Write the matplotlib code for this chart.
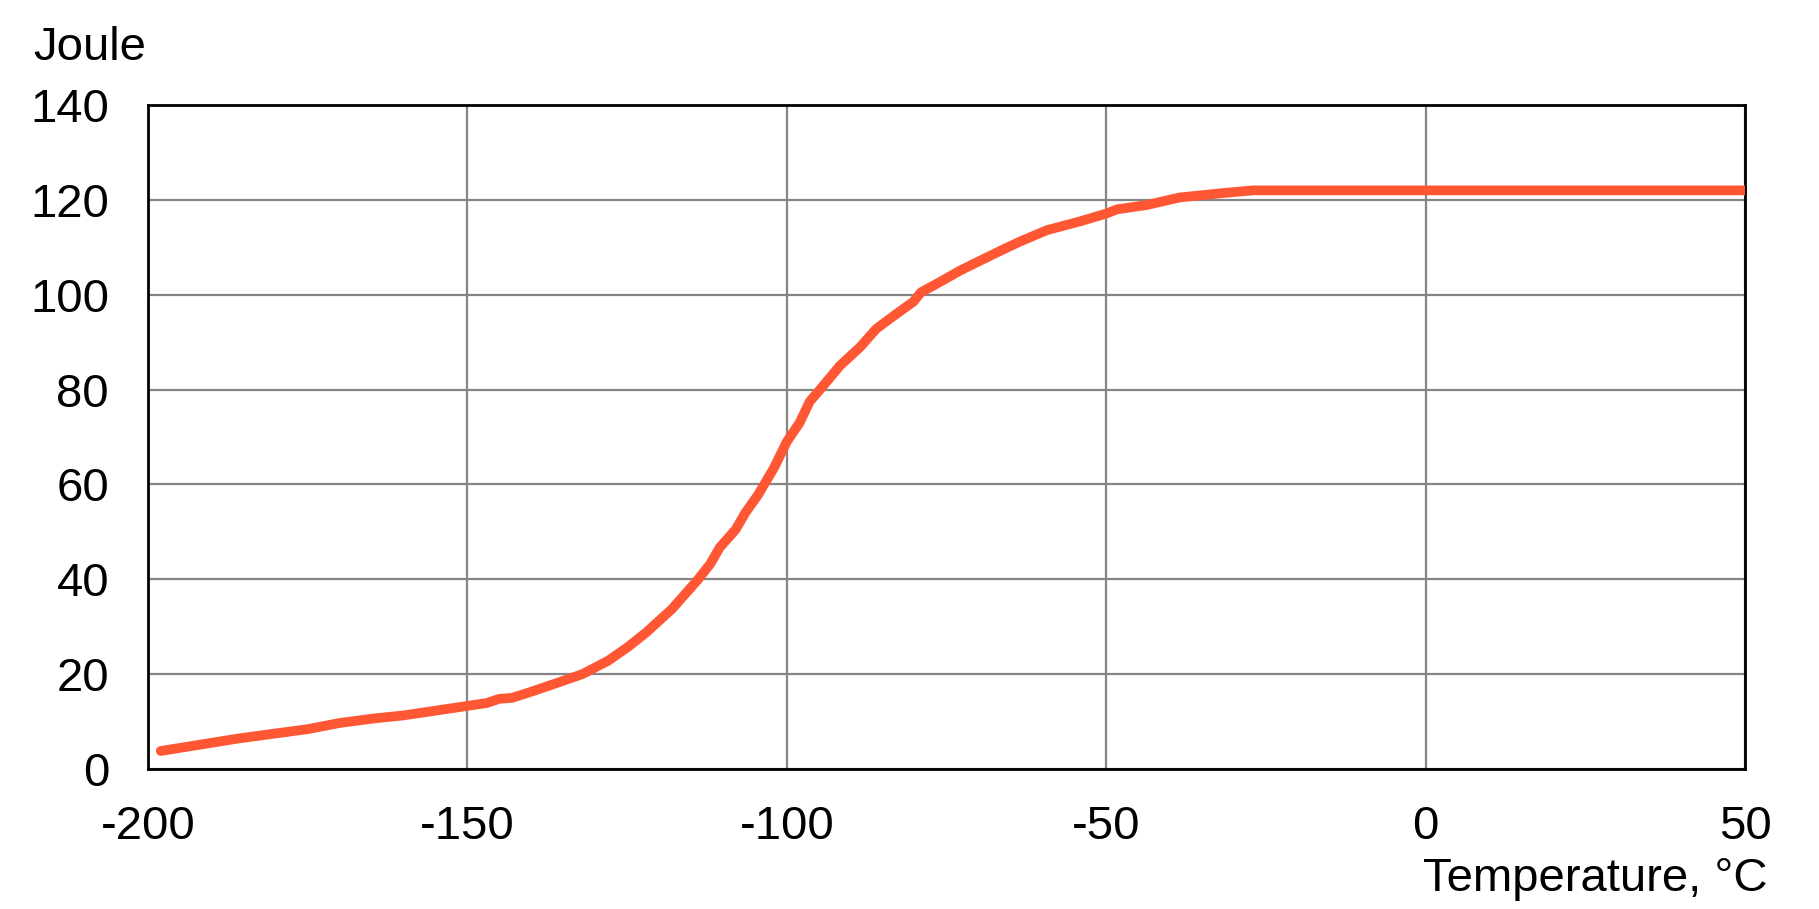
'''Charpy impact energy versus temperature'''

import matplotlib
matplotlib.use('Agg')
import matplotlib.pyplot as plt

# Data

temp = [-198, -192, -186, -180, -175, -170, -165, -160, -155, -150,
        -147, -145, -143, -140, -136.5, -132, -128, -125, -122, -118,
        -114, -112, -110.5, -108, -106.5, -104.5, -102, -100, -98, -96.4,
        -94.8, -91.7, -88.5, -86, -83, -80.2, -79, -76, -73, -70,
        -66.5, -63.5, -59.3, -54, -50, -48.3, -43.7, -38.5, -32, -27, 50]
joule = [3.8, 5.1, 6.4, 7.5, 8.4, 9.7, 10.6, 11.3, 12.3, 13.3,
         13.9, 14.8, 15.0, 16.3, 17.9, 20.0, 22.8, 25.6, 28.8, 33.7,
         39.8, 43.2, 46.7, 50.5, 54.0, 57.8, 63.5, 69.0, 73.0, 77.5,
         80.0, 85.0, 89.0, 92.8, 95.8, 98.5, 100.5, 102.7, 105.0, 107.0,
         109.3, 111.2, 113.6, 115.5, 117.1, 118.0, 118.9, 120.5, 121.4, 122.0, 122.0]

x_ticks = [-200, -150, -100, -50, 0, 50]
y_ticks = [0, 20, 40, 60, 80, 100, 120, 140]

# Figure

plt.rcParams['font.family'] = ['Liberation Sans', 'DejaVu Sans']
W, H = 1819, 909
fig = plt.figure(figsize=(W / 100, H / 100), dpi=100)
ax = fig.add_axes([148 / W, 1 - 769 / H, (1745 - 148) / W, (769 - 105) / H])

ax.plot(temp, joule, color='#ff5733', lw=7, solid_capstyle='round',
        solid_joinstyle='round', zorder=3)

ax.set_xlim(-200, 50)
ax.set_ylim(0, 140)
ax.set_xticks(x_ticks)
ax.set_yticks(y_ticks)
ax.set_xticklabels([str(t) for t in x_ticks])
ax.set_yticklabels([str(t) for t in y_ticks])
ax.tick_params(axis='both', length=0, labelsize=34)
ax.tick_params(axis='y', pad=28)
ax.tick_params(axis='x', pad=26)
ax.grid(True, color='#858585', lw=1.6)
ax.set_axisbelow(True)
for s in ax.spines.values():
    s.set_linewidth(2)
    s.set_color('black')

fig.text(33 / W, 1 - 60 / H, 'Joule', fontsize=34, ha='left', va='baseline')
fig.text(1767 / W, 1 - 891 / H, 'Temperature, °C', fontsize=34,
         ha='right', va='baseline')

fig.savefig('out.png', dpi=100, facecolor='white')
